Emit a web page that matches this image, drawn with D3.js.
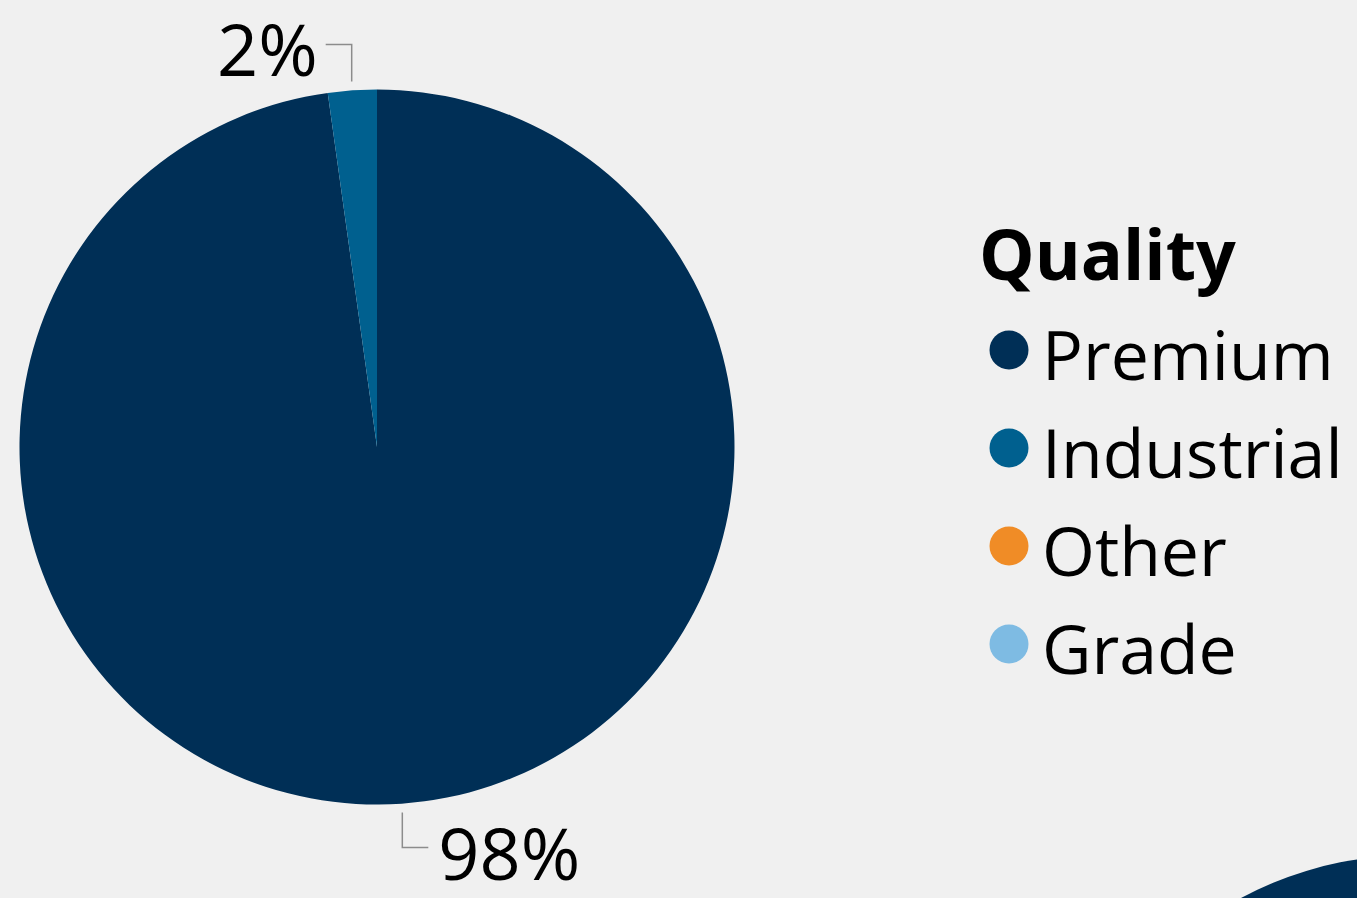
<!DOCTYPE html>
<html>
<head>
<meta charset="utf-8">
<script src="https://cdn.jsdelivr.net/npm/d3@7"></script>
<style>
  html, body { margin: 0; padding: 0; background: #f0f0f0; overflow: hidden; }
  text { font-family: "Open Sans", "Noto Sans", sans-serif; fill: #000; }
</style>
</head>
<body>
<div id="chart"></div>
<script>
// share of each quality (percent)
const categories = ["Premium", "Industrial", "Other", "Grade"];
const shares = [97.8, 2.2, 0, 0];
const colors = ["#002f56", "#00608f", "#f08c26", "#7ebbe3"];
const legendTitle = "Quality";

// the next panel peeking in at the bottom right corner
const nextShares = [100];

const width = 1357, height = 898;

let svg = d3.select("#chart")
            .append("svg")
            .attr("width", width)
            .attr("height", height);

let data = categories.map(function (c, i) {
  return {name: c, value: shares[i], color: colors[i]};
});

let radius = 357.5;
let cx = 377, cy = 447;

let pie = d3.pie()
            .sort(null)
            .value(function (d) { return d.value; });

let arcs = pie(data);

let arc = d3.arc().innerRadius(0).outerRadius(radius);

let g = svg.append("g")
           .attr("transform", "translate(" + cx + "," + cy + ")");

g.selectAll("path.slice")
 .data(arcs.filter(function (d) { return d.value > 0; }))
 .enter()
 .append("path")
   .attr("class", "slice")
   .attr("d", arc)
   .attr("fill", function (d) { return d.data.color; });

// data labels with elbow leader lines
arcs.filter(function (d) { return d.value > 0; }).forEach(function (d) {
  let mid = (d.startAngle + d.endAngle) / 2;
  let sx = Math.sin(mid), sy = -Math.cos(mid);
  let x0 = (radius + 9) * sx, y0 = (radius + 9) * sy;
  let top = sy < 0;
  let y1 = top ? y0 - 37 : y0 + 35;
  let x2 = top ? x0 - 26 : x0 + 26;

  g.append("path")
   .attr("d", "M" + x0 + "," + y0 + "V" + y1 + "H" + x2)
   .attr("fill", "none")
   .attr("stroke", "#8c8c8c")
   .attr("stroke-width", 1.5);

  g.append("text")
   .attr("x", top ? x2 - 8 : x2 + 10)
   .attr("y", y1 + 32)
   .attr("text-anchor", top ? "end" : "start")
   .style("font-size", "72px")
   .text(Math.round(d.value) + "%");
});

// legend
let legend = svg.append("g").attr("transform", "translate(979,0)");

legend.append("text")
      .attr("x", 0)
      .attr("y", 280)
      .style("font-size", "70px")
      .style("font-weight", "bold")
      .text(legendTitle);

let items = legend.selectAll("g.item")
                  .data(data)
                  .enter()
                  .append("g")
                  .attr("class", "item")
                  .attr("transform", function (d, i) { return "translate(0," + (380 + i * 98) + ")"; });

items.append("circle")
     .attr("cx", 30)
     .attr("cy", -30)
     .attr("r", 19.5)
     .attr("fill", function (d) { return d.color; });

items.append("text")
     .attr("x", 63)
     .attr("y", 0)
     .style("font-size", "68px")
     .text(function (d) { return d.name; });

// edge of the following pie
let nextArcs = pie(nextShares.map(function (v) { return {value: v}; }));
svg.append("g")
   .attr("transform", "translate(1410,1213)")
   .selectAll("path")
   .data(nextArcs)
   .enter()
   .append("path")
     .attr("d", arc)
     .attr("fill", colors[0]);
</script>
</body>
</html>
